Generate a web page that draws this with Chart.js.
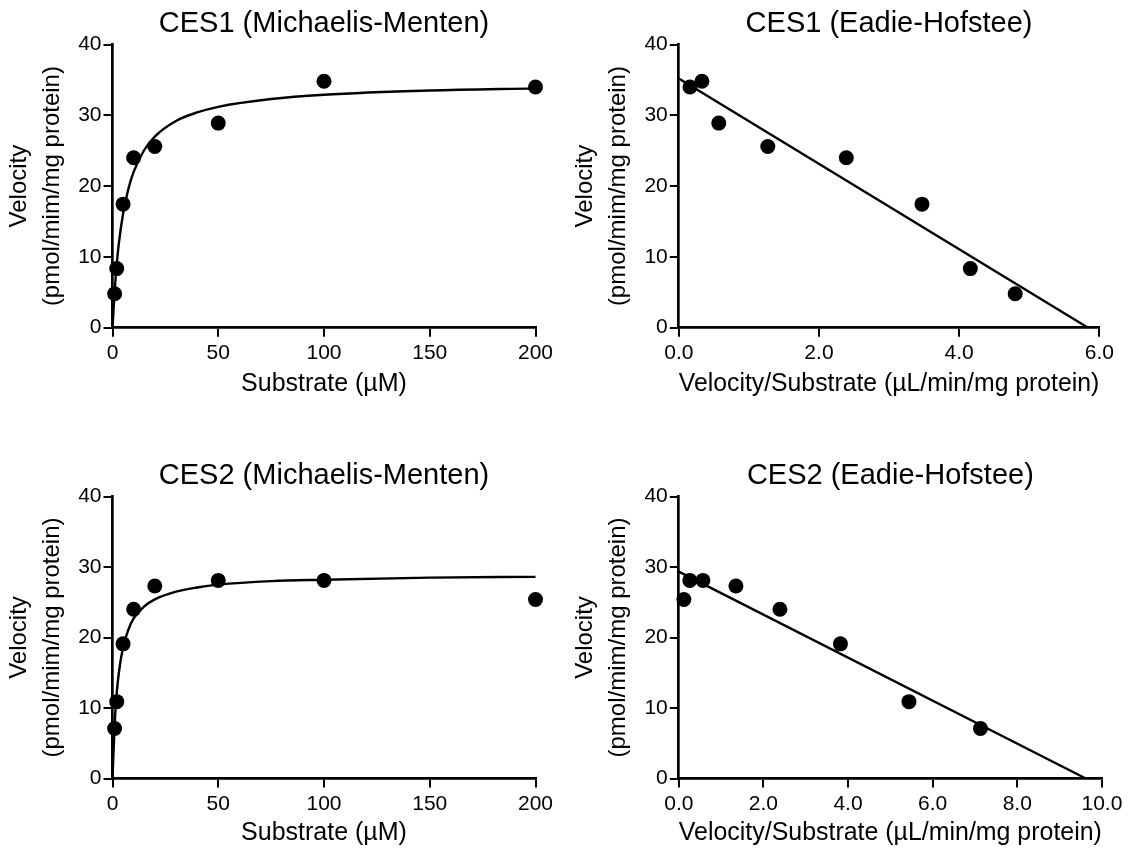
<!DOCTYPE html>
<html>
<head>
<meta charset="utf-8">
<script src="https://cdn.jsdelivr.net/npm/chart.js@4.4.0/dist/chart.umd.min.js"></script>
<style>
  html, body { margin: 0; padding: 0; background: #fff; }
  body { width: 1132px; height: 852px; position: relative; overflow: hidden; }
  canvas { position: absolute; }
</style>
</head>
<body>
<canvas id="c1" width="566" height="426" style="left:0;top:0;width:566px;height:426px"></canvas>
<canvas id="c2" width="566" height="426" style="left:566px;top:0;width:566px;height:426px"></canvas>
<canvas id="c3" width="566" height="400" style="left:0;top:452px;width:566px;height:400px"></canvas>
<canvas id="c4" width="566" height="400" style="left:566px;top:452px;width:566px;height:400px"></canvas>
<script>
// ---------- data ----------
const substrate = [1, 2, 5, 10, 20, 50, 100, 200];
const ces1Velocity = [4.8, 8.35, 17.45, 24.0, 25.6, 28.9, 34.8, 34.0];
const ces2Velocity = [7.1, 10.9, 19.1, 24.0, 27.3, 28.1, 28.1, 25.4];
const ces1VelocityOverSubstrate = [4.8, 4.16, 3.47, 2.39, 1.27, 0.57, 0.33, 0.16];
const ces2VelocityOverSubstrate = [7.13, 5.44, 3.82, 2.39, 1.35, 0.57, 0.26, 0.12];

const mmCurveX = [0, 1, 2, 3, 5, 7.5, 10, 15, 20, 30, 40, 50, 75, 100, 150, 200];
const ces1CurveY = [0, 5.1, 8.9, 11.9, 16.1, 19.6, 22.0, 25.1, 27.0, 29.2, 30.4, 31.2, 32.3, 32.9, 33.5, 33.8];
const ces2CurveY = [0, 7.6, 12.1, 15.0, 18.6, 21.1, 22.7, 24.4, 25.4, 26.5, 27.1, 27.5, 28.0, 28.2, 28.5, 28.6];

const ces1LineX = [0, 5.84];
const ces1LineY = [35.2, 0];
const ces2LineX = [0, 9.62];
const ces2LineY = [29.35, 0];

const velocityTicks = [0, 10, 20, 30, 40];
const substrateTicks = [0, 50, 100, 150, 200];
const eh1Ticks = [0, 2, 4, 6];
const eh2Ticks = [0, 2, 4, 6, 8, 10];

const titles = ['CES1 (Michaelis-Menten)', 'CES1 (Eadie-Hofstee)', 'CES2 (Michaelis-Menten)', 'CES2 (Eadie-Hofstee)'];
const xTitleMM = 'Substrate (\u00B5M)';
const xTitleEH = 'Velocity/Substrate (\u00B5L/min/mg protein)';
const yTitle = ['Velocity', '(pmol/mim/mg protein)'];

// ---------- helpers ----------
Chart.defaults.color = '#000';
Chart.defaults.font.family = '"Liberation Sans", Arial, Helvetica, sans-serif';
Chart.defaults.animation = false;

function pts(xs, ys) { return xs.map((x, i) => ({x: x, y: ys[i]})); }

function makeChart(id, o) {
  const ctx = document.getElementById(id);
  const H = ctx.height, W = ctx.width;
  const xAxisH = 70;
  const titleSize = 29, titleLH = 1.2, titleCenter = 20.3;
  const xtSize = 25, xtLH = 1.2;
  new Chart(ctx, {
    type: 'scatter',
    data: {
      datasets: [
        {
          data: pts(o.px, o.py),
          backgroundColor: '#000', borderColor: '#000',
          pointRadius: 7.5, pointHoverRadius: 7.5, borderWidth: 0,
          clip: false, order: 0
        },
        {
          data: pts(o.lx, o.ly),
          showLine: true, borderColor: '#000', borderWidth: 2.4,
          pointRadius: 0, fill: false,
          cubicInterpolationMode: o.smooth ? 'monotone' : 'default',
          tension: 0, clip: false, order: 1
        }
      ]
    },
    options: {
      responsive: false,
      animation: false,
      events: [],
      layout: { padding: { left: 0, top: 0, right: W - o.R, bottom: H - o.B - xAxisH } },
      plugins: {
        legend: { display: false },
        tooltip: { enabled: false },
        title: {
          display: true, text: o.title, fullSize: false,
          font: { size: titleSize, weight: 'normal', lineHeight: titleLH },
          color: '#000',
          padding: { top: o.T - titleCenter - titleSize * titleLH / 2, bottom: titleCenter - titleSize * titleLH / 2 }
        }
      },
      scales: {
        x: {
          type: 'linear', position: 'bottom',
          min: o.xTicks[0], max: o.xTicks[o.xTicks.length - 1],
          afterBuildTicks: s => { s.ticks = o.xTicks.map(v => ({value: v})); },
          afterFit: s => { s.height = xAxisH; },
          ticks: { font: { size: 21 }, color: '#000', padding: 4, maxRotation: 0, autoSkip: false,
                   callback: v => o.xFmt(v) },
          grid: { drawOnChartArea: false, drawTicks: true, tickLength: 9, color: '#000', lineWidth: 2 },
          border: { display: true, color: '#000', width: 2.7 },
          title: { display: true, text: o.xTitle, font: { size: xtSize, lineHeight: xtLH }, color: '#000',
                   padding: { top: 0, bottom: xAxisH - o.xTitleOff - xtSize * xtLH / 2 } }
        },
        y: {
          type: 'linear', position: 'left',
          min: 0, max: 40,
          afterBuildTicks: s => { s.ticks = velocityTicks.map(v => ({value: v})); },
          afterFit: s => { s.width = o.L; },
          ticks: { font: { size: 21 }, color: '#000', padding: 2, callback: v => String(v) },
          grid: { drawOnChartArea: false, drawTicks: true, tickLength: 9, color: '#000', lineWidth: 2 },
          border: { display: true, color: '#000', width: 2.7 },
          title: { display: true, text: yTitle, font: { size: 24, lineHeight: 1.35 }, color: '#000',
                   padding: { top: 3.5, bottom: 0 } }
        }
      }
    }
  });
}

const fmtInt = v => String(v);
const fmt1 = v => Number(v).toFixed(1);

makeChart('c1', { title: titles[0], px: substrate, py: ces1Velocity, lx: mmCurveX, ly: ces1CurveY, smooth: true,
  xTicks: substrateTicks, xFmt: fmtInt, xTitle: xTitleMM, L: 112.5, R: 535.5, T: 44.5, B: 327.7, xTitleOff: 56.3 });
makeChart('c2', { title: titles[1], px: ces1VelocityOverSubstrate, py: ces1Velocity, lx: ces1LineX, ly: ces1LineY, smooth: false,
  xTicks: eh1Ticks, xFmt: fmt1, xTitle: xTitleEH, L: 112.8, R: 533.3, T: 44.5, B: 327.7, xTitleOff: 56.3 });
makeChart('c3', { title: titles[2], px: substrate, py: ces2Velocity, lx: mmCurveX, ly: ces2CurveY, smooth: true,
  xTicks: substrateTicks, xFmt: fmtInt, xTitle: xTitleMM, L: 112.5, R: 535.5, T: 44.5, B: 326.5, xTitleOff: 55 });
makeChart('c4', { title: titles[3], px: ces2VelocityOverSubstrate, py: ces2Velocity, lx: ces2LineX, ly: ces2LineY, smooth: false,
  xTicks: eh2Ticks, xFmt: fmt1, xTitle: xTitleEH, L: 112.8, R: 535.9, T: 44.5, B: 326.5, xTitleOff: 55 });
</script>
</body>
</html>
